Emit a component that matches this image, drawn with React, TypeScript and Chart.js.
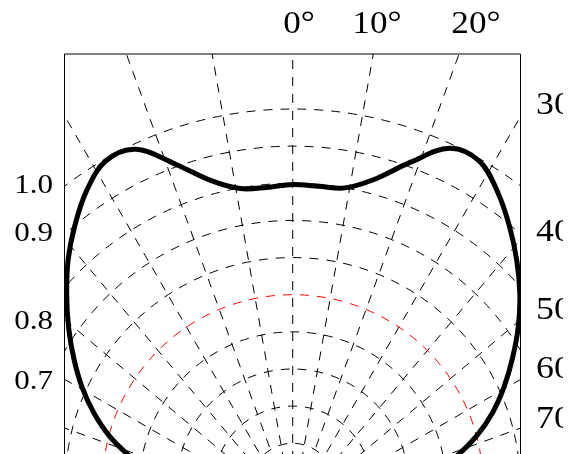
import React, { useEffect, useRef } from "react";
import { Chart, registerables } from "chart.js";

Chart.register(...registerables);

// ---- data (polar: angle in degrees from vertical, relative intensity) ----
const ANGLES = [
  -90, -85, -80, -75, -70, -65, -60, -55, -50, -45, -40, -35, -30, -25, -20, -15, -10, -5,
  0, 5, 10, 15, 20, 25, 30, 35, 40, 45, 50, 55, 60, 65, 70, 75, 80, 85, 90,
];
const INTENSITY = [
  0.3, 0.37, 0.433, 0.499, 0.558, 0.614, 0.668, 0.724, 0.782, 0.843, 0.9, 0.955, 0.995, 0.985, 0.906, 0.836, 0.798, 0.792,
  0.797, 0.795, 0.8, 0.84, 0.912, 0.988, 0.994, 0.95, 0.896, 0.841, 0.786, 0.729, 0.671, 0.616, 0.561, 0.501, 0.436, 0.37, 0.3,
];

// grid definition
const ARC_VALUES = [0.1, 0.2, 0.3, 0.4, 0.5, 0.6, 0.7, 0.8, 0.9, 1.0];
const HALF_VALUE = 0.5;
const SPOKE_ANGLES = [-80, -70, -60, -50, -40, -30, -20, -10, 0, 10, 20, 30, 40, 50, 60, 70, 80];
const R_OFFSET = 0.0124; // radial offset of the intensity scale at the pole
const SPOKE_ORIGIN_Y = -0.07; // spokes converge slightly below the pole

// tick labels
const TOP_LABELS = ["0°", "10°", "20°"];
const RIGHT_LABELS = ["30°", "40°", "50°", "60°", "70°"];
const LEFT_LABELS = ["1.0", "0.9", "0.8", "0.7"];

// visible window in data units (pole at 0,0)
const X_MIN = -0.6158;
const X_MAX = 0.6147;
const Y_MIN = 0.0835;
const Y_MAX = 1.1605;

const rad = (d: number) => (d * Math.PI) / 180;

function stretchedText(ctx: CanvasRenderingContext2D, t: string, x: number, y: number, sx: number, align: CanvasTextAlign) {
  ctx.save();
  ctx.translate(x, y);
  ctx.scale(sx, 1);
  ctx.textAlign = align;
  ctx.fillText(t, 0, 0);
  ctx.restore();
}

const polarGrid = {
  id: "polarGrid",
  beforeDatasetsDraw(chart: any) {
    const { ctx, chartArea, scales } = chart;
    const cx = scales.x.getPixelForValue(0);
    const cy = scales.y.getPixelForValue(0);
    const unit = scales.x.getPixelForValue(1) - cx;
    const sy = scales.y.getPixelForValue(SPOKE_ORIGIN_Y);
    ctx.save();
    ctx.beginPath();
    ctx.rect(chartArea.left, chartArea.top, chartArea.right - chartArea.left, chartArea.bottom - chartArea.top);
    ctx.clip();
    ctx.lineWidth = 1;
    ctx.setLineDash([9, 8]);
    ctx.strokeStyle = "#000";
    for (const a of SPOKE_ANGLES) {
      const t = rad(a);
      ctx.beginPath();
      ctx.moveTo(cx, sy);
      ctx.lineTo(cx + 2000 * Math.sin(t), sy - 2000 * Math.cos(t));
      ctx.stroke();
    }
    for (const v of ARC_VALUES) {
      ctx.strokeStyle = v === HALF_VALUE ? "#ff0000" : "#000";
      ctx.beginPath();
      ctx.arc(cx, cy, (v + R_OFFSET) * unit, Math.PI, 2 * Math.PI);
      ctx.stroke();
    }
    ctx.restore();
  },
  afterDraw(chart: any) {
    const { ctx, chartArea } = chart;
    const { left, right, top, bottom } = chartArea;
    ctx.save();
    ctx.setLineDash([]);
    ctx.strokeStyle = "#000";
    ctx.lineWidth = 1;
    ctx.beginPath();
    ctx.moveTo(left + 0.5, bottom);
    ctx.lineTo(left + 0.5, top);
    ctx.lineTo(right - 0.5, top);
    ctx.lineTo(right - 0.5, bottom);
    ctx.stroke();

    ctx.fillStyle = "#000";
    ctx.textBaseline = "middle";
    ctx.font = '32px "Liberation Serif"';
    const topX = [299, 377, 476];
    TOP_LABELS.forEach((t, i) => stretchedText(ctx, t, topX[i], 25, 1.1, "center"));
    // right-hand labels are cut by the figure's own border
    ctx.save();
    ctx.beginPath();
    ctx.rect(0, 0, 563, chart.height);
    ctx.clip();
    const rightY = [106, 233, 311, 370, 420];
    RIGHT_LABELS.forEach((t, i) => stretchedText(ctx, t, 536, rightY[i], 1.12, "left"));
    ctx.restore();
    ctx.font = '27px "Liberation Serif"';
    const leftY = [186, 234, 322, 382];
    LEFT_LABELS.forEach((t, i) => stretchedText(ctx, t, 53, leftY[i], 1.15, "right"));
    ctx.restore();
  },
};

export default function App() {
  const ref = useRef<HTMLCanvasElement | null>(null);
  useEffect(() => {
    if (!ref.current) return;
    const points = ANGLES.map((a, i) => {
      const r = INTENSITY[i] + R_OFFSET;
      return { x: r * Math.sin(rad(a)), y: r * Math.cos(rad(a)) };
    });
    const chart = new Chart(ref.current, {
      type: "scatter",
      data: {
        datasets: [
          {
            data: points,
            showLine: true,
            borderColor: "#000",
            borderWidth: 5,
            pointRadius: 0,
            tension: 0.35,
            fill: false,
          },
        ],
      },
      options: {
        animation: false,
        responsive: false,
        layout: { padding: { left: 64, right: 61, top: 54, bottom: 0 } },
        scales: {
          x: { type: "linear", min: X_MIN, max: X_MAX, display: false },
          y: { type: "linear", min: Y_MIN, max: Y_MAX, display: false },
        },
        plugins: { legend: { display: false }, tooltip: { enabled: false } },
      },
      plugins: [polarGrid],
    });
    return () => chart.destroy();
  }, []);
  return (
    <div style={{ position: "fixed", left: 0, top: 0, width: 582, height: 454, background: "#fff", overflow: "hidden" }}>
      <canvas ref={ref} width={582} height={454} style={{ display: "block" }} />
    </div>
  );
}
